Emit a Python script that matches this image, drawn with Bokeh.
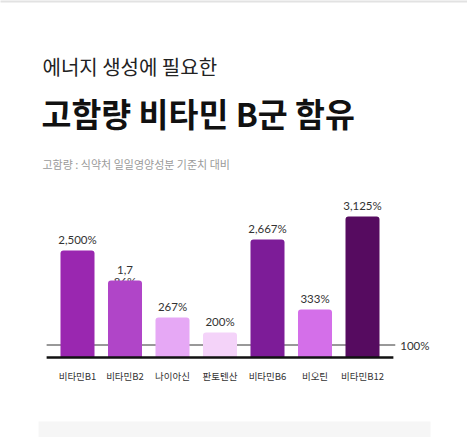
from bokeh.plotting import figure
from bokeh.models import Range1d, Label, ColumnDataSource
from bokeh.core.properties import value
from bokeh.embed import file_html
from bokeh.resources import INLINE

# ---- data ----
categories = ["비타민B1", "비타민B2", "나이아신", "판토텐산", "비타민B6", "비오틴", "비타민B12"]
percent_values = [2500, 1786, 267, 200, 2667, 333, 3125]
value_labels = ["2,500%", "1,7\n86%", "267%", "200%", "2,667%", "333%", "3,125%"]
# displayed bar lengths (the source chart is not drawn to a linear scale)
bar_heights = [107, 77, 40, 25, 118, 48, 141]
reference_level = 12.5          # displayed height of the 100% line
reference_label = "100%"
bar_colors = ["#9a27b0", "#b045c8", "#e6a8f5", "#f4d3f9", "#7d1c98", "#d46fe9", "#560b60"]

title_small = "에너지 생성에 필요한"
title_big = "고함량 비타민 B군 함유"
subtitle = "고함량 : 식약처 일일영양성분 기준치 대비"

KR = "Noto Sans CJK KR"
NUM = "Lato"

W, H = 467, 437
idx = list(range(len(categories)))

p = figure(width=W, height=H, output_backend="svg", toolbar_location=None,
           x_range=Range1d(-1.6211, 8.2105), y_range=Range1d(-80, 357),
           x_axis_location=None, y_axis_location=None, min_border=0,
           background_fill_color="white", border_fill_color="white")
p.grid.visible = False
p.outline_line_color = None

src = ColumnDataSource(dict(x=idx, h=bar_heights, c=bar_colors, lab=value_labels, cat=categories))

# thin photo strip at the very top
p.quad(left=[-2], right=[9], bottom=[355], top=[360], fill_color="#e2e2e2", line_color=None)

# value labels first, so the wrapped second line of B2 sits behind its bar
p.text(x="x", y="h", text="lab", source=src, text_align="center", text_baseline="top",
       y_offset=-18, text_font=value(NUM), text_font_size="11.5px", text_color="#333333",
       text_line_height=0.95)

# 100% reference line
n = len(categories)
p.segment(x0=[-0.65], y0=[reference_level], x1=[n - 1 + 0.69], y1=[reference_level],
          line_color="#333333", line_width=1)
p.text(x=[n - 1 + 0.69], y=[reference_level], text=[reference_label], x_offset=5,
       text_align="left", text_baseline="middle", text_font=value(NUM),
       text_font_size="11.5px", text_color="#333333")

# bars
p.vbar(x="x", top="h", bottom=0, width=0.716, source=src, fill_color="c", line_color=None,
       border_radius=(3, 3, 0, 0))

# baseline
p.segment(x0=[-0.65], y0=[0], x1=[n - 1 + 0.65], y1=[0], line_color="#111111", line_width=2.5)

# category labels
p.text(x="x", y=0, text="cat", source=src, y_offset=18, text_align="center",
       text_baseline="middle", text_font=value(KR), text_font_size="9.5px", text_color="#333333")

# bottom grey strip
p.quad(left=[-0.821], right=[7.432], bottom=[-90], top=[-64], fill_color="#f6f6f6", line_color=None)

# titles (screen units, y measured from bottom)
p.add_layout(Label(x=42, y=371, x_units="screen", y_units="screen", text=title_small,
                   text_font=KR, text_font_size="20px", text_color="#222222",
                   text_baseline="middle"))
p.add_layout(Label(x=41, y=325, x_units="screen", y_units="screen", text=title_big,
                   text_font=KR, text_font_size="32.5px", text_font_style="bold",
                   text_color="#111111", text_baseline="middle"))
p.add_layout(Label(x=42, y=274, x_units="screen", y_units="screen", text=subtitle,
                   text_font=KR, text_font_size="11px", text_color="#9a9a9a",
                   text_baseline="middle"))

open("out.html", "w").write(file_html(p, INLINE))
